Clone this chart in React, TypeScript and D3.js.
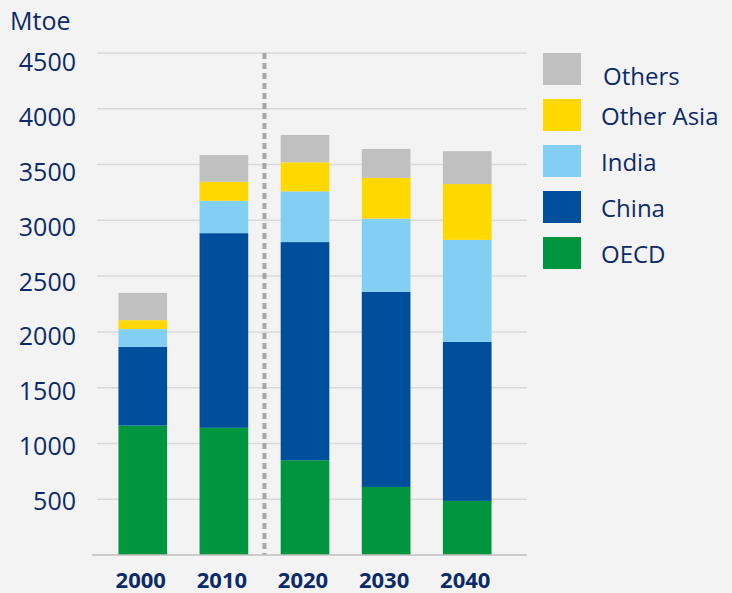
import { useEffect, useRef } from "react"
import * as d3 from "d3"

// Years on the x axis
const years = ["2000", "2010", "2020", "2030", "2040"]

// Stacked series, bottom to top (Mtoe)
const oecd = [1160, 1140, 850, 610, 485]
const china = [705, 1745, 1955, 1750, 1425]
const india = [160, 290, 455, 655, 915]
const otherAsia = [80, 170, 260, 365, 500]
const others = [245, 240, 245, 260, 295]

const yTicks = [500, 1000, 1500, 2000, 2500, 3000, 3500, 4000, 4500]

const seriesNames = ["OECD", "China", "India", "Other Asia", "Others"]
const seriesColors = ["#009640", "#004f9c", "#83cff4", "#ffd800", "#c0c0c0"]

const textColor = "#0d2a68"
const font = "'Open Sans', sans-serif"

export default function App() {
  const svgRef = useRef<SVGSVGElement>(null)

  useEffect(() => {
    if (!svgRef.current) return
    const svg = d3.select(svgRef.current)
    svg.selectAll("*").remove()

    const width = 732
    const height = 593

    // background
    svg.append("rect").attr("width", width).attr("height", height).attr("fill", "#f3f3f3")

    const x = d3.scaleBand().domain(years).range([86, 524]).paddingInner(0.4).paddingOuter(0.4)
    const y = d3.scaleLinear().domain([0, 4500]).range([555, 53])
    // tick labels sit a little under their gridlines, closer at the bottom
    const yLabel = d3.scaleLinear().domain([500, 4500]).range([510, 71])

    // gridlines
    svg
      .append("g")
      .selectAll("line")
      .data(yTicks)
      .enter()
      .append("line")
      .attr("x1", 97)
      .attr("x2", 527)
      .attr("y1", (d) => y(d))
      .attr("y2", (d) => y(d))
      .attr("stroke", "#d9d9d9")
      .attr("stroke-width", 1.5)

    // y tick labels
    svg
      .append("g")
      .selectAll("text")
      .data(yTicks)
      .enter()
      .append("text")
      .attr("x", 76)
      .attr("y", (d) => yLabel(d))
      .attr("text-anchor", "end")
      .style("font-family", font)
      .style("font-size", "25px")
      .style("fill", textColor)
      .text((d) => d)

    svg
      .append("text")
      .attr("x", 10)
      .attr("y", 30)
      .style("font-family", font)
      .style("font-size", "25px")
      .style("fill", textColor)
      .text("Mtoe")

    // stacked bars
    const rows = years.map((yr, i) => ({
      year: yr,
      OECD: oecd[i],
      China: china[i],
      India: india[i],
      "Other Asia": otherAsia[i],
      Others: others[i],
    }))
    const stacked = d3.stack<any>().keys(seriesNames)(rows)

    svg
      .append("g")
      .selectAll("g")
      .data(stacked)
      .enter()
      .append("g")
      .attr("fill", (_d, i) => seriesColors[i])
      .selectAll("rect")
      .data((d) => d)
      .enter()
      .append("rect")
      .attr("x", (d) => x(d.data.year) as number)
      .attr("width", x.bandwidth())
      .attr("y", (d) => y(d[1]))
      .attr("height", (d) => y(d[0]) - y(d[1]))

    // dashed separator between history and projections
    const sepX = ((x("2010") as number) + x.bandwidth() + (x("2020") as number)) / 2
    svg
      .append("line")
      .attr("x1", sepX)
      .attr("x2", sepX)
      .attr("y1", y(4500))
      .attr("y2", y(0))
      .attr("stroke", "#a6a6a6")
      .attr("stroke-width", 4)
      .attr("stroke-dasharray", "6,4")

    // baseline
    svg
      .append("line")
      .attr("x1", 92)
      .attr("x2", 527)
      .attr("y1", y(0))
      .attr("y2", y(0))
      .attr("stroke", "#bfbfbf")
      .attr("stroke-width", 1.5)

    // x labels
    svg
      .append("g")
      .selectAll("text")
      .data(years)
      .enter()
      .append("text")
      .attr("x", (d) => (x(d) as number) + x.bandwidth() / 2 - 2)
      .attr("y", 588)
      .attr("text-anchor", "middle")
      .style("font-family", font)
      .style("font-size", "22px")
      .style("font-weight", "bold")
      .style("fill", textColor)
      .text((d) => d)

    // legend, top to bottom in reverse stack order
    const legendItems = seriesNames.map((name, i) => ({ name, color: seriesColors[i] })).reverse()
    const legend = svg.append("g").attr("transform", "translate(543, 53)")
    legendItems.forEach((item, i) => {
      legend
        .append("rect")
        .attr("x", 0)
        .attr("y", i * 46)
        .attr("width", 38)
        .attr("height", 32)
        .attr("fill", item.color)
      legend
        .append("text")
        .attr("x", item.name === "Others" ? 60 : 58)
        .attr("y", i * 46 + (i === 0 ? 32 : 26))
        .style("font-family", font)
        .style("font-size", "24px")
        .style("fill", textColor)
        .text(item.name)
    })
  }, [])

  return (
    <svg
      ref={svgRef}
      width={732}
      height={593}
      style={{ position: "absolute", left: 0, top: 0 }}
    ></svg>
  )
}
